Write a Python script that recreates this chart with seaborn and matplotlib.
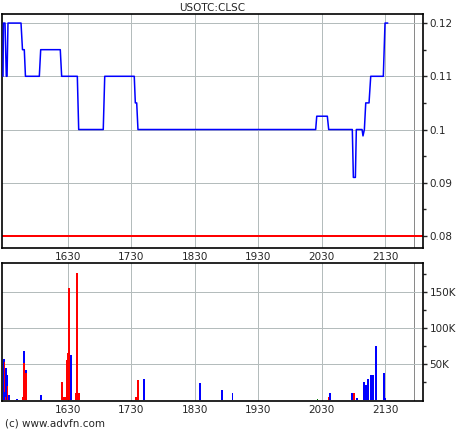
import pandas as pd
import matplotlib
matplotlib.use("Agg")
import matplotlib.pyplot as plt
import seaborn as sns
from matplotlib.ticker import FixedLocator, FuncFormatter

sns.set_theme(style="white")
plt.rcParams['font.family'] = ['DejaVu Sans']

# price trace: minutes after midnight, price
price_time = [928.9, 929.3, 930.8, 932.0, 932.7, 933.6, 945.9, 947.3, 949.0, 950.1,
              963.2, 964.5, 983.0, 984.3, 999.1, 1000.4, 1023.6, 1025.0, 1052.9, 1053.9,
              1055.2, 1056.4, 1224.3, 1225.3, 1235.3, 1236.6, 1258.9, 1259.9, 1261.8, 1262.7,
              1268.1, 1269.0, 1270.3, 1271.6, 1274.7, 1276.3, 1288.2, 1289.8, 1292.4]
price = [0.11, 0.12, 0.12, 0.11, 0.11, 0.12, 0.12, 0.115, 0.115, 0.11,
         0.11, 0.115, 0.115, 0.11, 0.11, 0.10, 0.10, 0.11, 0.11, 0.105,
         0.105, 0.10, 0.10, 0.1025, 0.1025, 0.10, 0.10, 0.091, 0.091, 0.10,
         0.10, 0.0988, 0.10, 0.105, 0.105, 0.11, 0.11, 0.12, 0.12]
prev_close = 0.08

# volume bars: minutes after midnight, shares, up/down/flat
vol_time = [929.8, 930.3, 930.8, 931.7, 931.7, 932.7, 933.1, 934.5, 942.1, 947.8,
            948.7, 948.7, 950.6, 950.6, 964.8, 984.6, 985.6, 987.4, 989.3, 990.3,
            991.2, 992.2, 993.1, 997.8, 998.8, 1000.7, 1054.5, 1056.4, 1061.6, 1062.1,
            1115.0, 1135.8, 1145.5, 1225.9, 1236.9, 1237.8, 1258.6, 1260.5, 1263.4, 1269.1,
            1270.0, 1270.9, 1271.9, 1272.8, 1273.8, 1276.6, 1277.5, 1278.5, 1281.3, 1288.9,
            1289.8]
volume = [57000, 52000, 11000, 44000, 4000, 35000, 19000, 7000, 1000, 3500,
          68000, 51000, 41000, 38000, 7000, 25000, 3500, 3500, 55000, 65000,
          156000, 3500, 63000, 9000, 176000, 9000, 3500, 28000, 9000, 29000,
          23500, 14000, 10000, 1000, 4000, 9500, 9500, 9500, 2500, 13700,
          25300, 10000, 20700, 17500, 29000, 34600, 25300, 34600, 75000, 37000,
          2500]
vol_side = ['up', 'down', 'up', 'up', 'down', 'up', 'down', 'up', 'up', 'down',
            'up', 'down', 'up', 'down', 'up', 'down', 'down', 'down', 'down', 'down',
            'down', 'down', 'up', 'down', 'down', 'down', 'down', 'down', 'down', 'up',
            'up', 'up', 'up', 'flat', 'down', 'up', 'up', 'down', 'up', 'up',
            'up', 'up', 'up', 'up', 'up', 'up', 'up', 'up', 'up', 'up',
            'up']

tick_pos = [990, 1050, 1110, 1170, 1230, 1290]
tick_labels = ['1630', '1730', '1830', '1930', '2030', '2130']
session_end = 1317.5

side_colors = {'up': '#0000ff', 'down': '#ff0000', 'flat': '#008000'}
grid_col = '#b4bcbc'

df_price = pd.DataFrame({'t': price_time, 'price': price})
df_vol = pd.DataFrame({'t': vol_time, 'volume': volume, 'side': vol_side})

fig = plt.figure(figsize=(4.6, 4.3), dpi=100)
ax1 = fig.add_axes([0.0054, 0.424, 0.9135, 0.5434])
ax2 = fig.add_axes([0.0054, 0.0674, 0.9135, 0.3217])

for ax in (ax1, ax2):
    ax.set_facecolor('white')
    ax.set_xlim(928.4, 1325.4)
    for x in tick_pos:
        ax.axvline(x, color=grid_col, lw=0.72, zorder=0, antialiased=False)
    ax.axvline(session_end, color='#8a8a8a', lw=0.72, zorder=0, antialiased=False)
    for s in ax.spines.values():
        s.set_color('black')
        s.set_linewidth(1.2)
    ax.set_xticks(tick_pos)
    ax.set_xticklabels(tick_labels, fontsize=7.5)
    ax.tick_params(axis='x', length=0, pad=3)
    ax.yaxis.tick_right()
    ax.tick_params(axis='y', which='major', direction='out', length=3, width=1,
                   labelsize=7.5, pad=2, right=True, left=False)
    ax.tick_params(axis='y', which='minor', direction='out', length=2, width=1,
                   right=True, left=False)

# price panel
ax1.set_ylim(0.0778, 0.1217)
for y in [0.09, 0.10, 0.11, 0.12]:
    ax1.axhline(y, color=grid_col, lw=0.72, zorder=0, antialiased=False)
ax1.axhline(prev_close, color='#ff0000', lw=1.4, zorder=1, antialiased=False)
sns.lineplot(data=df_price, x='t', y='price', ax=ax1, color='#0000ff',
             lw=1.1, estimator=None, sort=False, zorder=3)
ax1.set_yticks([0.08, 0.09, 0.10, 0.11, 0.12])
ax1.yaxis.set_minor_locator(FixedLocator([0.085, 0.095, 0.105, 0.115]))
ax1.yaxis.set_major_formatter(FuncFormatter(lambda v, p: f'{v:g}'))
ax1.set_xlabel('')
ax1.set_ylabel('')
ax1.set_title('USOTC:CLSC', fontsize=7.5, pad=2)

# volume panel
ax2.set_ylim(-1700, 191000)
for y in [50000, 100000, 150000]:
    ax2.axhline(y, color=grid_col, lw=0.72, zorder=0, antialiased=False)
ax2.bar(df_vol['t'], df_vol['volume'], width=1.1,
        color=[side_colors[s] for s in df_vol['side']], zorder=2,
        linewidth=0, antialiased=False)
ax2.set_yticks([50000, 100000, 150000])
ax2.set_yticklabels(['50K', '100K', '150K'])
ax2.yaxis.set_minor_locator(FixedLocator([25000, 75000, 125000, 175000]))
ax2.set_xlabel('')
ax2.set_ylabel('')

fig.text(0.011, 0.016, '(c) www.advfn.com', fontsize=7.5, ha='left', va='center')

fig.savefig('out.png', dpi=100, facecolor='white')
